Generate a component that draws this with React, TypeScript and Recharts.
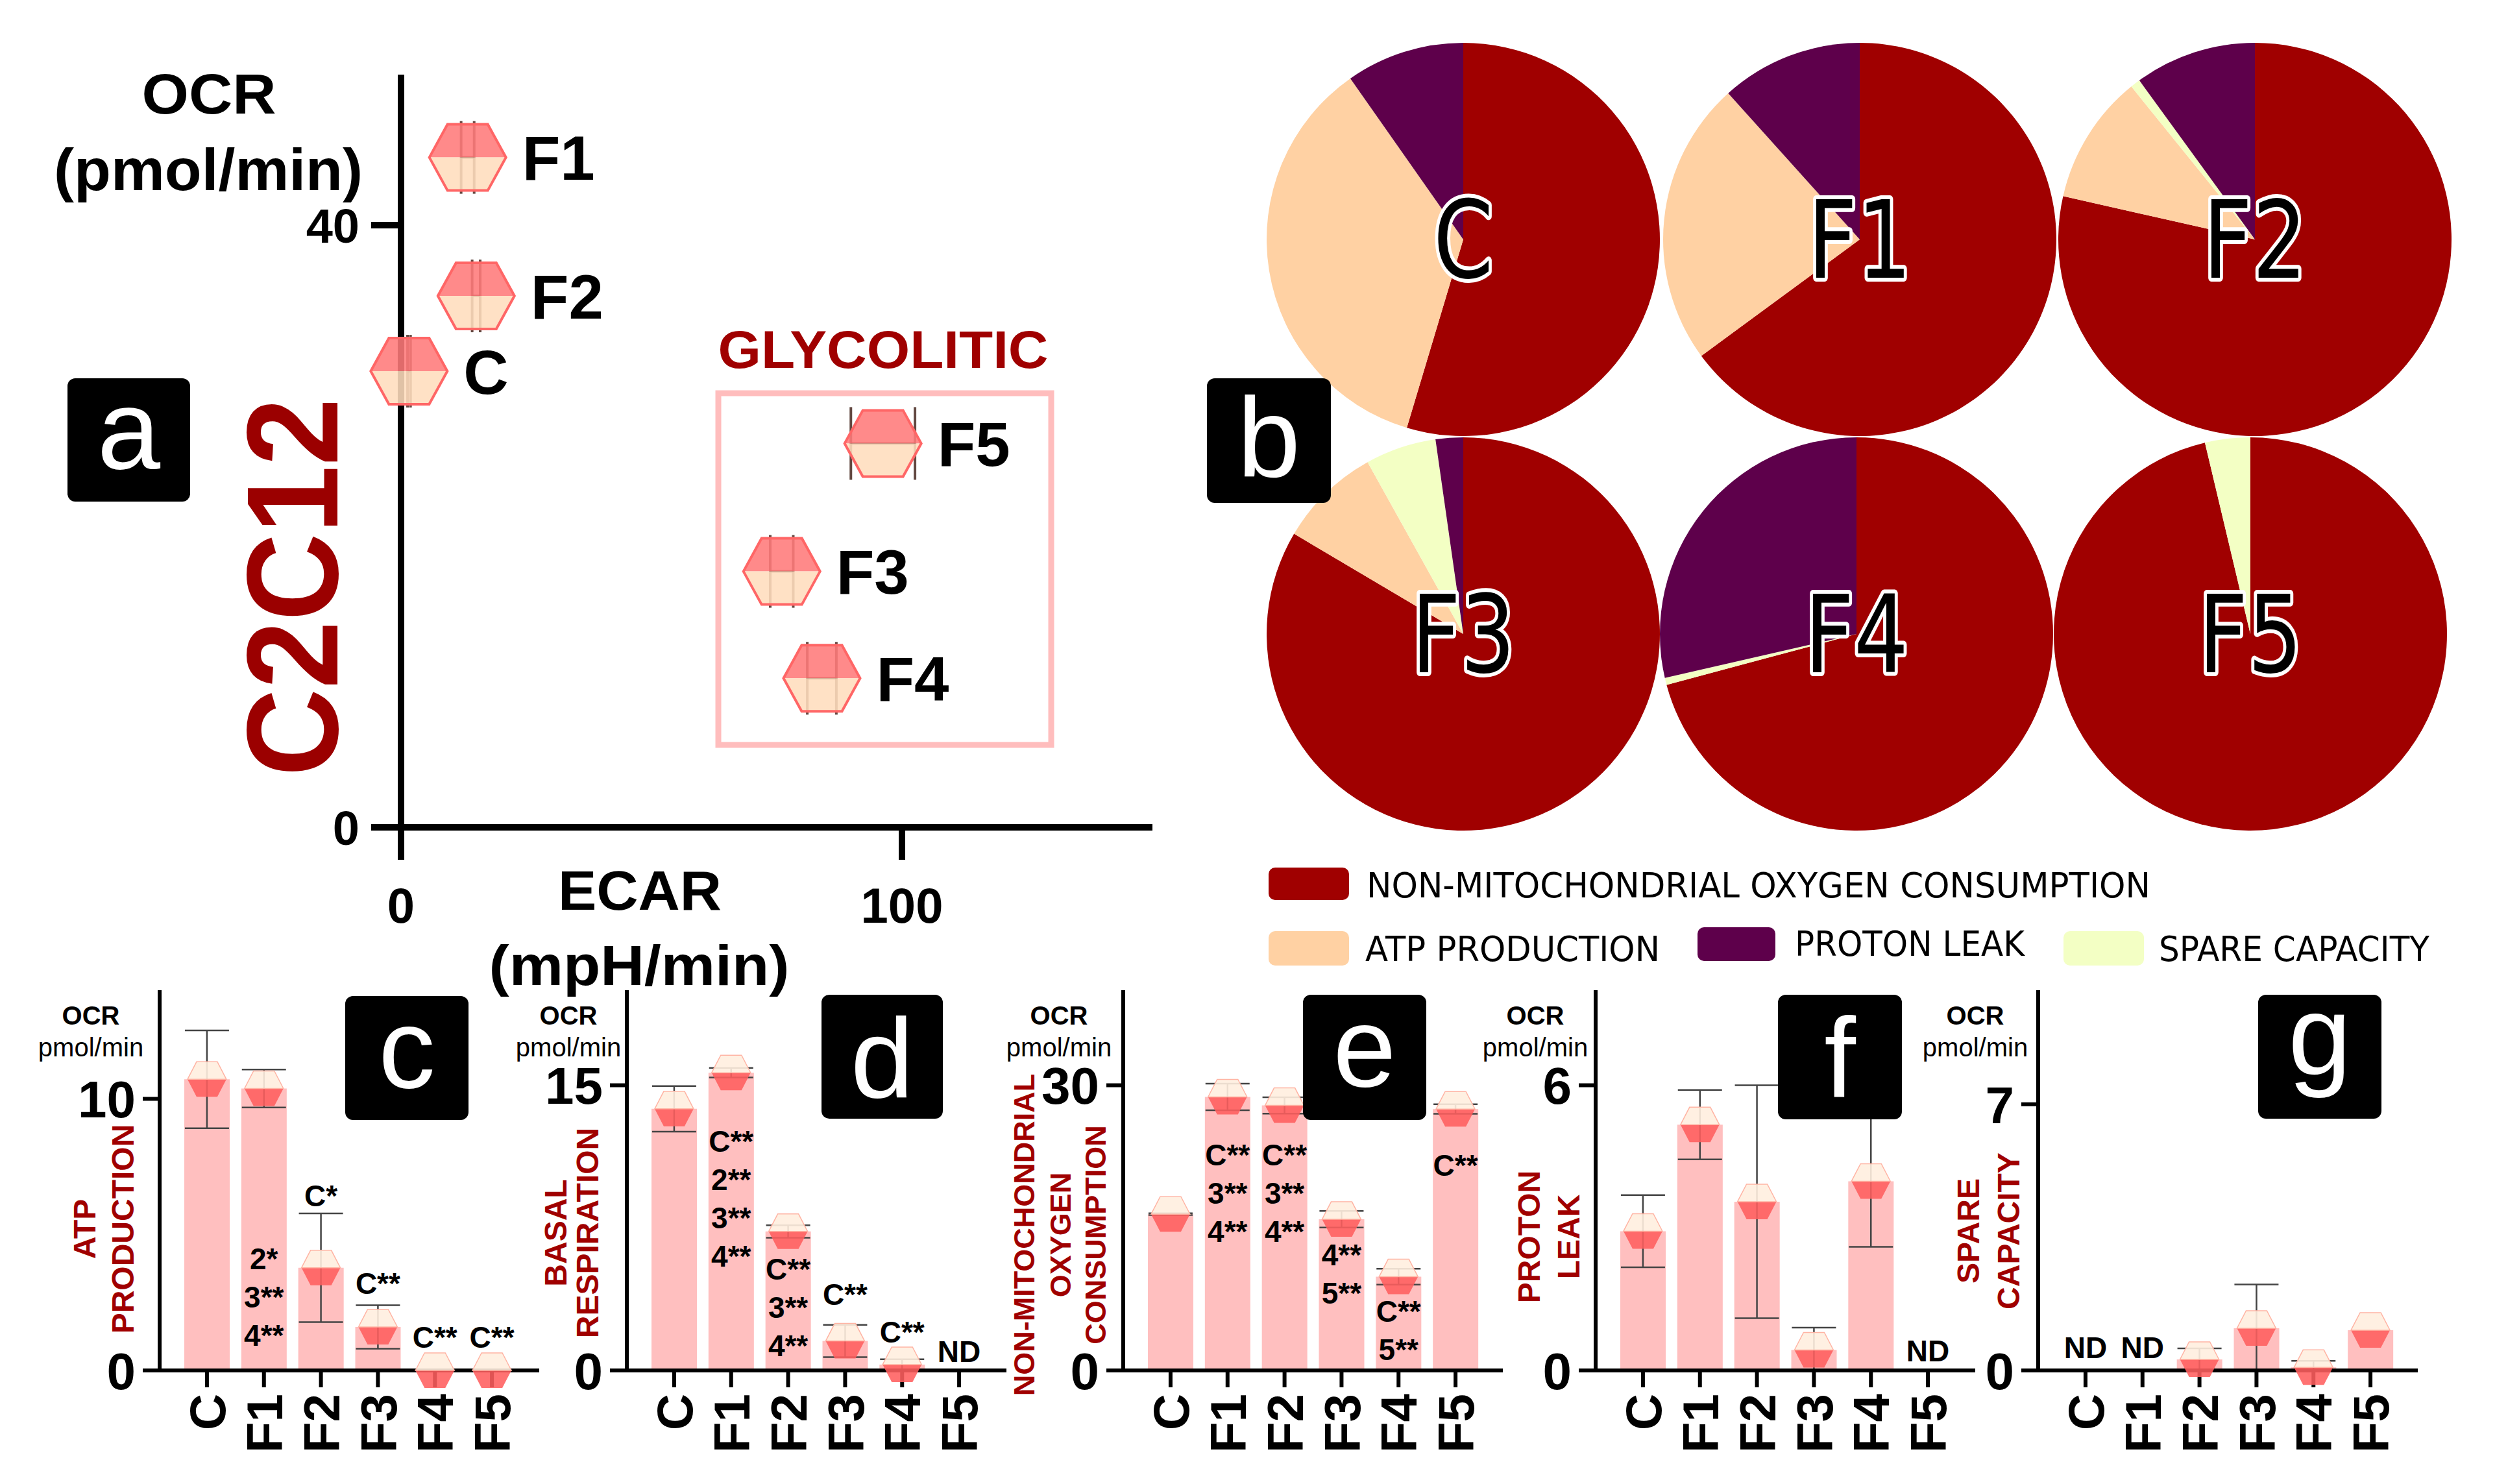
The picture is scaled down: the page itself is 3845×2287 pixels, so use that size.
import React from "react";
import {
  Bar,
  Cell,
  ComposedChart,
  ErrorBar,
  Pie,
  PieChart,
  ReferenceDot,
  Scatter,
  ScatterChart,
  XAxis,
  YAxis,
} from "recharts";

const SANS = '"Liberation Sans", Arial, sans-serif';
const NARROW = '"Liberation Sans Narrow", "Liberation Sans", Arial, sans-serif';
const DEJAVU = '"DejaVu Sans", sans-serif';
const DARK_RED = "#A00000";

const groups = ["C", "F1", "F2", "F3", "F4", "F5"];

// panel a: OCR vs ECAR map
const ecar = [1.6, 13.3, 15.0, 76.0, 84.0, 96.2];
const ecarErr = [0.3, 1.3, 0.8, 2.3, 2.9, 6.4];
const ocr = [30.3, 44.5, 35.3, 17.0, 9.9, 25.5];

// panels c-g: OCR (pmol/min), mean and error ([below, above] where the lower arm stops at 0)
const atpProduction = [10.72, 10.38, 3.78, 1.6, 0, 0];
const atpErr = [1.8, 0.7, 2.0, 0.8, 0, 0];
const basalRespiration = [13.76, 15.66, 7.31, 1.55, 0.31, null];
const basalErr = [1.2, 0.25, 0.33, 0.85, 0.28, null];
const nonMito = [16.44, 28.77, 27.88, 15.9, 9.86, 27.5];
const nonMitoErr = [0.1, 1.4, 0.86, 0.87, 0.84, 0.5];
const protonLeak = [2.93, 5.17, 3.55, 0.43, 3.98, null];
const protonErr = [0.76, 0.73, 2.45, [0.43, 0.47], 1.38, null];
const spareCapacity = [null, null, 0.29, 1.11, 0.08, 1.06];
const spareErr = [null, null, 0.29, [1.11, 1.15], [0.08, 0.17], null];

type Note = { group: string; at: number; lines: string[] };

const atpNotes: Note[] = [
  { group: "F1", at: 4.13, lines: ["2*", "3**", "4**"] },
  { group: "F2", at: 6.44, lines: ["C*"] },
  { group: "F3", at: 3.22, lines: ["C**"] },
  { group: "F4", at: 1.22, lines: ["C**"] },
  { group: "F5", at: 1.22, lines: ["C**"] },
];
const basalNotes: Note[] = [
  { group: "F1", at: 12.06, lines: ["C**", "2**", "3**", "4**"] },
  { group: "F2", at: 5.33, lines: ["C**", "3**", "4**"] },
  { group: "F3", at: 4.02, lines: ["C**"] },
  { group: "F4", at: 2.03, lines: ["C**"] },
  { group: "F5", at: 1.0, lines: ["ND"] },
];
const nonMitoNotes: Note[] = [
  { group: "F1", at: 22.67, lines: ["C**", "3**", "4**"] },
  { group: "F2", at: 22.67, lines: ["C**", "3**", "4**"] },
  { group: "F3", at: 12.19, lines: ["4**", "5**"] },
  { group: "F4", at: 6.23, lines: ["C**", "5**"] },
  { group: "F5", at: 21.64, lines: ["C**"] },
];
const leakNotes: Note[] = [{ group: "F5", at: 0.42, lines: ["ND"] }];
const spareNotes: Note[] = [
  { group: "C", at: 0.6, lines: ["ND"] },
  { group: "F1", at: 0.6, lines: ["ND"] },
];

// panel b: pies built from the same means
const pieSeries = ["NON-MITOCHONDRIAL OXYGEN CONSUMPTION", "ATP PRODUCTION", "SPARE CAPACITY", "PROTON LEAK"];
const pieColors = ["#A00000", "#FFD1A3", "#F3FFC4", "#5E004B"];
const pieRows = groups.map((g, i) =>
  [nonMito[i], atpProduction[i], spareCapacity[i], protonLeak[i]].map((v, j) => ({
    name: pieSeries[j],
    value: v ?? 0,
  }))
);
const pieCenters = [
  [2255, 369],
  [2866, 369],
  [3475, 369],
  [2255, 977],
  [2861, 977],
  [3468, 977],
];

const legendSlots = [
  { x: 1955, y: 1337, w: 124, h: 50, tx: 2106, ty: 1383, len: 1208 },
  { x: 1955, y: 1435, w: 124, h: 53, tx: 2104, ty: 1481, len: 454 },
  { x: 3180, y: 1435, w: 124, h: 53, tx: 3327, ty: 1481, len: 417 },
  { x: 2616, y: 1429, w: 120, h: 52, tx: 2766, ty: 1473, len: 354 },
];

const barPanels = [
  { values: atpProduction, errors: atpErr, max: 14, tick: 10, notes: atpNotes, plotLeft: 246 },
  { values: basalRespiration, errors: basalErr, max: 20, tick: 15, notes: basalNotes, plotLeft: 966 },
  { values: nonMito, errors: nonMitoErr, max: 40, tick: 30, notes: nonMitoNotes, plotLeft: 1731 },
  { values: protonLeak, errors: protonErr, max: 8, tick: 6, notes: leakNotes, plotLeft: 2459 },
  { values: spareCapacity, errors: spareErr, max: 10, tick: 7, notes: spareNotes, plotLeft: 3141 },
];

const barTitles = [
  { ocrX: 140, lines: ["ATP", "PRODUCTION"], xs: [130, 189], cy: 1894, size: 48 },
  { ocrX: 876, lines: ["BASAL", "RESPIRATION"], xs: [856, 905], cy: 1900, size: 48 },
  { ocrX: 1632, lines: ["NON-MITOCHONDRIAL", "OXYGEN", "CONSUMPTION"], xs: [1578, 1634, 1688], cy: 1903, size: 45 },
  { ocrX: 2366, lines: ["PROTON", "LEAK"], xs: [2356, 2417], cy: 1906, size: 48 },
  { ocrX: 3044, lines: ["SPARE", "CAPACITY"], xs: [3033, 3095], cy: 1897, size: 48 },
];

const panelBoxes = [
  { t: "a", x: 104, y: 583, w: 189, h: 190, base: 722 },
  { t: "b", x: 1860, y: 583, w: 191, h: 192, base: 734 },
  { t: "c", x: 532, y: 1535, w: 190, h: 191, base: 1676 },
  { t: "d", x: 1266, y: 1533, w: 187, h: 191, base: 1691 },
  { t: "e", x: 2008, y: 1533, w: 190, h: 193, base: 1674 },
  { t: "f", x: 2740, y: 1533, w: 191, h: 192, base: 1690 },
  { t: "g", x: 3480, y: 1533, w: 190, h: 191, base: 1656 },
];

function hexPath(cx: number, cy: number, hw: number, hh: number, edge: number, part: string) {
  if (part === "top")
    return `M${cx - hw},${cy} L${cx - edge},${cy - hh} L${cx + edge},${cy - hh} L${cx + hw},${cy} Z`;
  if (part === "bottom")
    return `M${cx - hw},${cy} L${cx - edge},${cy + hh} L${cx + edge},${cy + hh} L${cx + hw},${cy} Z`;
  return `M${cx - hw},${cy} L${cx - edge},${cy - hh} L${cx + edge},${cy - hh} L${cx + hw},${cy} L${cx + edge},${cy + hh} L${cx - edge},${cy + hh} Z`;
}

const EnergyPoint = (props: any) => {
  const { cx, cy, payload } = props;
  return (
    <g>
      <path d={hexPath(cx, cy, 59, 51, 31, "top")} fill="#FF7A7A" fillOpacity={0.88} />
      <path d={hexPath(cx, cy, 59, 51, 31, "bottom")} fill="#FFDDBD" fillOpacity={0.88} />
      <path d={hexPath(cx, cy, 59, 51, 31, "full")} fill="none" stroke="#FF6666" strokeWidth={4} />
      <text
        x={cx + 84}
        y={cy}
        dy="0.36em"
        fontFamily={NARROW}
        fontWeight={700}
        fontSize={96}
        fill="#000"
      >
        {payload.name}
      </text>
    </g>
  );
};

const MeanHex = (props: any) => {
  const { cx, cy, payload } = props;
  if (payload == null || payload.value == null || cx == null || cy == null) return <g />;
  return (
    <g>
      <path d={hexPath(cx, cy, 30, 27, 16, "top")} fill="#FFEEDF" fillOpacity={0.9} />
      <path d={hexPath(cx, cy, 30, 27, 16, "bottom")} fill="#FF5E5E" fillOpacity={0.88} />
      <path d={hexPath(cx, cy, 30, 27, 16, "top")} fill="none" stroke="#FFB4A4" strokeWidth={1.5} />
    </g>
  );
};

const Nothing = () => <g />;

const CatTick = (props: any) => {
  const { x, y, payload } = props;
  return (
    <text
      transform={`translate(${x},${y}) rotate(-90)`}
      textAnchor="end"
      dy="0.36em"
      fontFamily={SANS}
      fontWeight={700}
      fontSize={78}
      fill="#000"
    >
      {payload.value}
    </text>
  );
};

const ValueTick = (props: any) => {
  const { x, y, payload } = props;
  return (
    <text x={x} y={y} dy="0.36em" textAnchor="end" fontFamily={SANS} fontWeight={700} fontSize={80} fill="#000">
      {payload.value}
    </text>
  );
};

const MapXTick = (props: any) => {
  const { x, y, payload } = props;
  return (
    <text x={x} y={y} dy="0.71em" textAnchor="middle" fontFamily={SANS} fontWeight={700} fontSize={76} fill="#000">
      {payload.value}
    </text>
  );
};

const MapYTick = (props: any) => {
  const { x, y, payload } = props;
  return (
    <text x={x} y={y} dy="0.36em" textAnchor="end" fontFamily={SANS} fontWeight={700} fontSize={74} fill="#000">
      {payload.value}
    </text>
  );
};

function EnergyMap() {
  const rows = groups.map((g, i) => ({ name: g, x: ecar[i], y: ocr[i], ex: ecarErr[i] }));
  return (
    <div style={{ position: "absolute", left: 418, top: 0 }}>
      <ScatterChart width={1378} height={1475} margin={{ top: 115, right: 20, bottom: 0, left: 0 }}>
        <XAxis
          type="number"
          dataKey="x"
          domain={[0, 150]}
          ticks={[0, 100]}
          height={200}
          tickSize={50}
          tickMargin={43}
          axisLine={{ stroke: "#000", strokeWidth: 10 }}
          tickLine={{ stroke: "#000", strokeWidth: 10 }}
          tick={MapXTick}
        />
        <YAxis
          type="number"
          dataKey="y"
          domain={[0, 50]}
          ticks={[0, 40]}
          width={200}
          tickSize={46}
          tickMargin={18}
          axisLine={{ stroke: "#000", strokeWidth: 10 }}
          tickLine={{ stroke: "#000", strokeWidth: 10 }}
          tick={MapYTick}
        />
        <Scatter data={rows} shape={EnergyPoint} isAnimationActive={false} />
        <Scatter data={rows} shape={Nothing} isAnimationActive={false}>
          <ErrorBar dataKey="ex" direction="x" width={56} stroke="#3B1A12" strokeOpacity={0.8} strokeWidth={4} />
        </Scatter>
      </ScatterChart>
    </div>
  );
}

function BarPanel({ values, errors, max, tick, notes, plotLeft }: any) {
  const rows = groups.map((g, i) => ({ name: g, value: values[i], err: errors[i] }));
  return (
    <div style={{ position: "absolute", left: plotLeft - 200, top: 1400 }}>
      <ComposedChart width={815} height={887} data={rows} margin={{ top: 126, right: 30, bottom: 0, left: 0 }}>
        <XAxis
          dataKey="name"
          type="category"
          padding={{ left: 29, right: 29 }}
          interval={0}
          height={175}
          tickSize={26}
          tickMargin={10}
          axisLine={{ stroke: "#000", strokeWidth: 6 }}
          tickLine={{ stroke: "#000", strokeWidth: 6 }}
          tick={CatTick}
        />
        <YAxis
          type="number"
          domain={[0, max]}
          ticks={[0, tick]}
          interval={0}
          width={200}
          tickSize={26}
          tickMargin={11}
          axisLine={{ stroke: "#000", strokeWidth: 6 }}
          tickLine={{ stroke: "#000", strokeWidth: 6 }}
          tick={ValueTick}
        />
        <Bar dataKey="value" fill="#FFBFBF" barSize={70} isAnimationActive={false} />
        <Scatter dataKey="value" shape={MeanHex} isAnimationActive={false} />
        <Scatter dataKey="value" shape={Nothing} isAnimationActive={false}>
          <ErrorBar dataKey="err" direction="y" width={34} stroke="#444" strokeWidth={2.5} />
        </Scatter>
        {notes.map((n: Note) => (
          <ReferenceDot
            key={n.group}
            x={n.group}
            y={n.at}
            r={0}
            shape={(p: any) => (
              <g>
                {n.lines.map((line, k) => (
                  <text
                    key={k}
                    x={p.cx}
                    y={p.cy + k * 59}
                    dy="0.36em"
                    textAnchor="middle"
                    fontFamily={SANS}
                    fontWeight={700}
                    fontSize={46}
                    fill="#000"
                  >
                    {line}
                  </text>
                ))}
              </g>
            )}
          />
        ))}
      </ComposedChart>
    </div>
  );
}

function Pies() {
  return (
    <div style={{ position: "absolute", left: 1900, top: 0 }}>
      <PieChart width={1945} height={1300} margin={{ top: 0, right: 0, bottom: 0, left: 0 }}>
        {groups.map((g, i) => (
          <Pie
            key={g}
            data={pieRows[i]}
            dataKey="value"
            nameKey="name"
            cx={pieCenters[i][0] - 1900}
            cy={pieCenters[i][1]}
            outerRadius={303}
            startAngle={90}
            endAngle={-270}
            stroke="none"
            isAnimationActive={false}
          >
            {pieRows[i].map((r, j) => (
              <Cell key={r.name} fill={pieColors[j]} />
            ))}
          </Pie>
        ))}
      </PieChart>
    </div>
  );
}

function Overlay() {
  const bold = { fontFamily: SANS, fontWeight: 700 } as const;
  return (
    <svg
      width={3845}
      height={2287}
      style={{ position: "absolute", left: 0, top: 0, pointerEvents: "none" }}
    >
      {/* panel a titles */}
      <text x={322} y={175} textAnchor="middle" fontSize={88} {...bold} textLength={207} lengthAdjust="spacingAndGlyphs">
        OCR
      </text>
      <text x={321} y={293} textAnchor="middle" fontSize={90} {...bold} textLength={476} lengthAdjust="spacingAndGlyphs">
        (pmol/min)
      </text>
      <text x={986} y={1402} textAnchor="middle" fontSize={86} {...bold} textLength={252} lengthAdjust="spacingAndGlyphs">
        ECAR
      </text>
      <text x={985} y={1518} textAnchor="middle" fontSize={88} {...bold} textLength={463} lengthAdjust="spacingAndGlyphs">
        (mpH/min)
      </text>
      <text x={1361} y={567} textAnchor="middle" fontSize={82} {...bold} fill={DARK_RED} textLength={509} lengthAdjust="spacingAndGlyphs">
        GLYCOLITIC
      </text>
      <rect x={1107} y={606} width={513} height={542} fill="none" stroke="#FFBDBD" strokeWidth={9} />
      <text
        transform="translate(448,905) rotate(-90)"
        textAnchor="middle"
        dy="0.36em"
        fontSize={200}
        {...bold}
        fill="#9B0000"
        textLength={583}
        lengthAdjust="spacingAndGlyphs"
      >
        C2C12
      </text>

      {/* pie labels */}
      {groups.map((g, i) => (
        <text
          key={g}
          transform={`translate(${pieCenters[i][0]},${pieCenters[i][1]}) scale(0.8,1)`}
          textAnchor="middle"
          dy="0.36em"
          fontFamily={DEJAVU}
          fontSize={165}
          fill="#000"
          stroke="#fff"
          strokeWidth={12}
          paintOrder="stroke"
          strokeLinejoin="round"
        >
          {g}
        </text>
      ))}

      {/* legend */}
      {pieSeries.map((s, j) => {
        const l = legendSlots[j];
        return (
          <g key={s}>
            <rect x={l.x} y={l.y} width={l.w} height={l.h} rx={10} fill={pieColors[j]} />
            <text
              x={l.tx}
              y={l.ty}
              fontFamily={DEJAVU}
              fontSize={54}
              fill="#000"
              textLength={l.len}
              lengthAdjust="spacingAndGlyphs"
            >
              {s}
            </text>
          </g>
        );
      })}

      {/* bar panel titles */}
      {barTitles.map((t) => (
        <g key={t.ocrX}>
          <text x={t.ocrX} y={1579} textAnchor="middle" fontSize={40} {...bold}>
            OCR
          </text>
          <text x={t.ocrX} y={1628} textAnchor="middle" fontSize={40} fontFamily={SANS}>
            pmol/min
          </text>
          {t.lines.map((line, k) => (
            <text
              key={line}
              transform={`translate(${t.xs[k]},${t.cy}) rotate(-90)`}
              textAnchor="middle"
              dy="0.36em"
              fontSize={t.size}
              {...bold}
              fill={DARK_RED}
            >
              {line}
            </text>
          ))}
        </g>
      ))}

      {/* panel letters */}
      {panelBoxes.map((b) => (
        <g key={b.t}>
          <rect x={b.x} y={b.y} width={b.w} height={b.h} rx={12} fill="#000" />
          <text x={b.x + b.w / 2} y={b.base} textAnchor="middle" fontFamily={SANS} fontSize={175} fill="#fff">
            {b.t}
          </text>
        </g>
      ))}
    </svg>
  );
}

export default function App() {
  return (
    <div style={{ position: "absolute", left: 0, top: 0, width: 3845, height: 2287, background: "#fff" }}>
      <EnergyMap />
      <Pies />
      {barPanels.map((p) => (
        <BarPanel key={p.plotLeft} {...p} />
      ))}
      <Overlay />
    </div>
  );
}
